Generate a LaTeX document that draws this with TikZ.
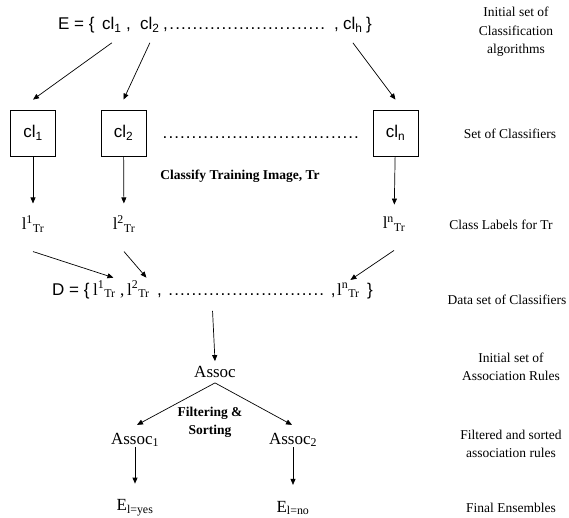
\documentclass[tikz,border=0pt]{standalone}
\usepackage{fontspec}
\setmainfont{Liberation Serif}
\newfontfamily\arialfont{Liberation Sans}
\usetikzlibrary{arrows.meta, positioning, fit}

\newcommand{\dotrow}[1]{\hbox to #1{\leaders\hbox to 5.8pt{\hss.\hss}\hfill}}

\begin{document}
\begin{tikzpicture}[
    x=1pt, y=-1pt,
    settext/.style={font=\arialfont\fontsize{17}{20}\selectfont, inner sep=0pt, anchor=base west},
    clbox/.style={draw, line width=0.8pt, minimum width=45pt, minimum height=46pt, inner sep=0pt, font=\arialfont\fontsize{17}{20}\selectfont},
    lbl/.style={font=\fontsize{17}{20}\selectfont, inner sep=0pt},
    note/.style={font=\fontsize{13.5}{18.5}\selectfont, align=center, inner sep=0pt},
    boldnote/.style={font=\bfseries\fontsize{13.5}{18}\selectfont, align=center, inner sep=0pt},
    arr/.style={-{Triangle[length=6pt, width=5pt]}, line width=0.7pt}
]
\useasboundingbox (0,0) rectangle (569,518);

% set of classification algorithms
\node[settext] (eopen) at (58,30) {E = \{};
\node[settext] (ecl1) at (102,30) {cl\textsubscript{1}};
\node[settext] (ecomma) at (126,30) {,};
\node[settext] (ecl2) at (140,30) {cl\textsubscript{2}};
\node[settext] (emid) at (163,30) {,\hspace{1pt}\dotrow{159pt}\hspace{6pt},};
\node[settext] (eclh) at (343,30) {cl\textsubscript{h}};
\node[settext] (eclose) at (366,30) {\}};

% classifiers
\node[clbox] (cl1) at (33,133) {cl\textsubscript{1}};
\node[clbox] (cl2) at (123.5,133) {cl\textsubscript{2}};
\node[clbox] (cln) at (395.5,133) {cl\textsubscript{n}};
\node[settext] (cldots) at (162,139) {\dotrow{198pt}};
\node[boldnote] (classify) at (240,176) {Classify Training Image, Tr};

% class labels
\node[lbl] (lab1) at (33,224) {l\textsuperscript{1}\textsubscript{Tr}};
\node[lbl] (lab2) at (124,224) {l\textsuperscript{2}\textsubscript{Tr}};
\node[lbl] (labn) at (394,224) {l\textsuperscript{n}\textsubscript{Tr}};

% data set of classifiers
\node[settext] (dopen) at (52,295) {D = \{};
\node[lbl, anchor=base west] (dl1) at (93,295) {l\textsuperscript{1}\textsubscript{Tr}};
\node[lbl, anchor=base west] (dcomma) at (120,295) {,};
\node[lbl, anchor=base west] (dl2) at (127,295) {l\textsuperscript{2}\textsubscript{Tr}};
\node[settext] (dmid) at (157,295) {,\hspace{6pt}\dotrow{159pt}\hspace{4pt},};
\node[lbl, anchor=base west] (dln) at (337,295) {l\textsuperscript{n}\textsubscript{Tr}};
\node[settext] (dclose) at (367,295) {\}};
\node[fit=(dopen)(dclose), inner sep=0pt] (dset) {};

% association rules
\node[lbl] (assoc) at (215,372) {Assoc};
\node[lbl] (assoc1) at (135,440) {Assoc\textsubscript{1}};
\node[lbl] (assoc2) at (293,440) {Assoc\textsubscript{2}};
\node[boldnote] (filter) at (210,422) {Filtering \&\\Sorting};
\node[lbl] (eyes) at (135,508) {E\textsubscript{l=yes}};
\node[lbl] (eno) at (293,508) {E\textsubscript{l=no}};

% right column
\node[note] (n1) at (516,32) {Initial set of\\Classification\\algorithms};
\node[note] (n2) at (510,134) {Set of Classifiers};
\node[note] (n3) at (501,225) {Class Labels for Tr};
\node[note] (n4) at (507,300) {Data set of Classifiers};
\node[note] (n5) at (511,367) {Initial set of\\Association Rules};
\node[note] (n6) at (511,444) {Filtered and sorted\\association rules};
\node[note] (n7) at (511,508) {Final Ensembles};

\draw[arr] ([yshift=-10pt]ecl1.south) -- ([yshift=10pt]cl1.north);
\draw[arr] ([yshift=-10pt]ecl2.south) -- ([yshift=10pt]cl2.north);
\draw[arr] ([yshift=-10pt]eclh.south) -- ([yshift=10pt]cln.north);
\draw[arr, shorten >=12pt] (cl1) -- (lab1);
\draw[arr, shorten >=12pt] (cl2) -- (lab2);
\draw[arr, shorten >=12pt] (cln) -- (labn);
\draw[arr] ([yshift=-19pt]lab1.south) -- ([xshift=9pt, yshift=3pt]dl1.north);
\draw[arr] ([yshift=-19pt]lab2.south) -- ([xshift=8pt, yshift=3pt]dl2.north);
\draw[arr] ([yshift=-19pt]labn.south) -- ([xshift=2pt, yshift=3pt]dln.north);
\draw[arr] ([yshift=-12pt]dset.south) -- ([yshift=5pt]assoc.north);
\draw[arr] ([yshift=-5pt]assoc.south) -- ([xshift=2pt, yshift=8pt]assoc1.north);
\draw[arr] ([yshift=-5pt]assoc.south) -- ([xshift=-1pt, yshift=8pt]assoc2.north);
\draw[arr, shorten >=16pt] (assoc1) -- (eyes);
\draw[arr, shorten >=16pt] (assoc2) -- (eno);
\end{tikzpicture}
\end{document}
